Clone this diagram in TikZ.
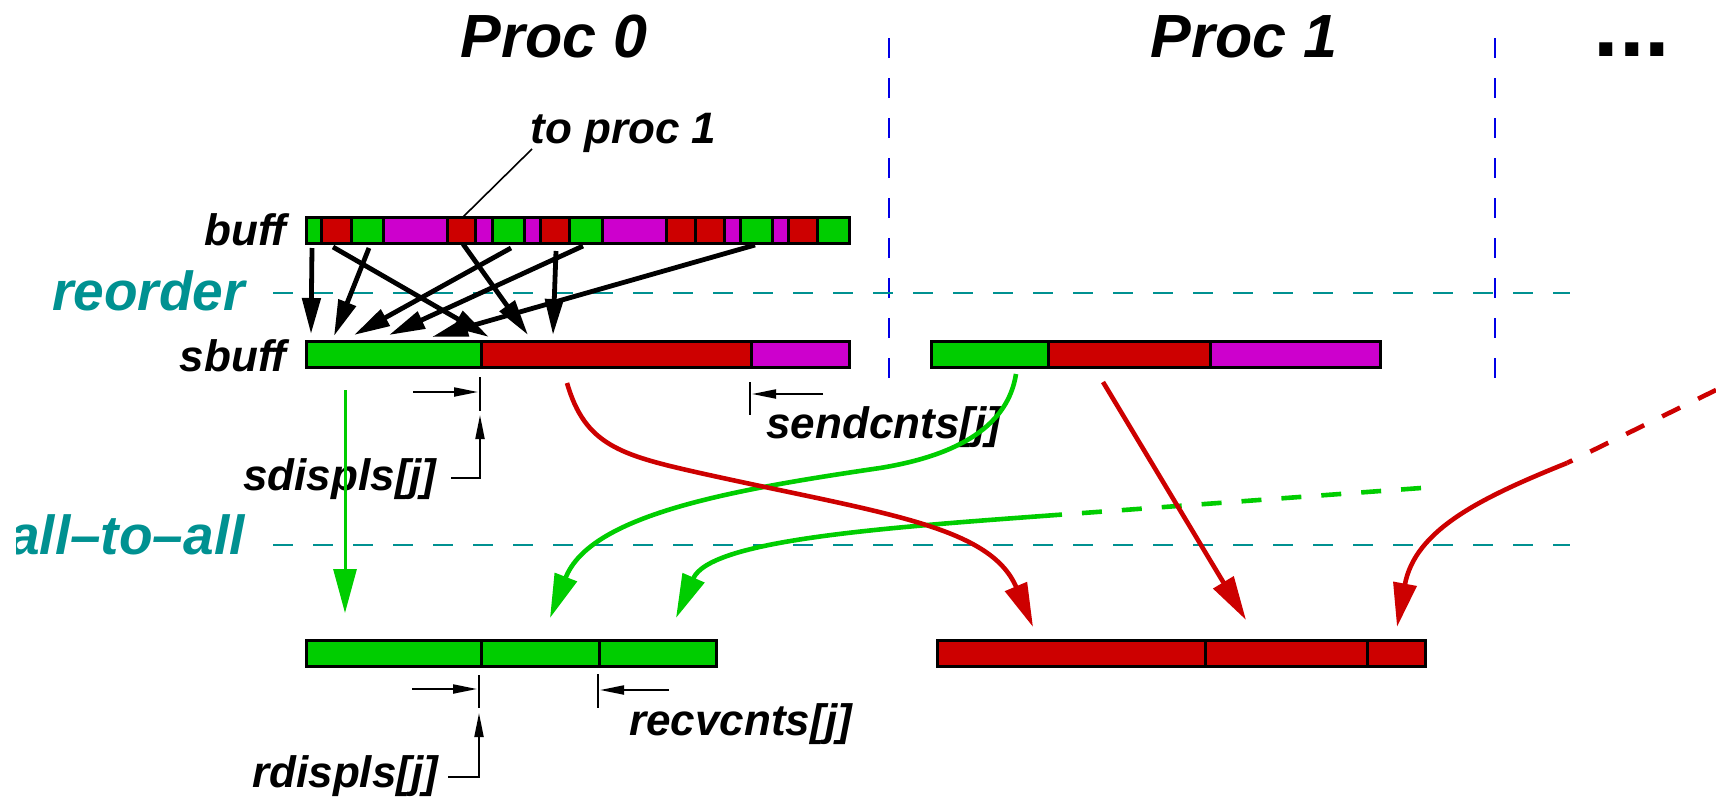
\documentclass[tikz,border=0pt]{standalone}
\usepackage{fontspec}
\setmainfont{Liberation Sans}
\usetikzlibrary{arrows.meta}
\definecolor{fgreen}{RGB}{0,205,0}
\definecolor{fred}{RGB}{205,0,0}
\definecolor{fmag}{RGB}{205,0,205}
\definecolor{fteal}{RGB}{0,145,145}
\definecolor{fblue}{RGB}{0,0,230}
\begin{document}
\begin{tikzpicture}[x=0.5pt, y=-0.5pt, every node/.style={inner sep=0pt},
  proc/.style={font=\fontsize{30.5}{32}\selectfont\bfseries\itshape, anchor=base},
  lbl/.style={font=\fontsize{22}{24}\selectfont\bfseries\itshape},
  phase/.style={font=\fontsize{27.5}{30}\selectfont\bfseries\itshape, text=fteal},
  seg/.style={draw=black, line width=1.5pt},
  sep/.style={fteal, line width=1.3pt, dash pattern=on 10pt off 10pt},
  pbound/.style={fblue, line width=1.3pt, dash pattern=on 10pt off 10pt},
  mv/.style={-{Triangle[length=18pt,width=9pt]}, line width=2.4pt},
  xfer/.style={-{Triangle[length=22pt,width=11.5pt]}, line width=2.3pt},
  ann/.style={-{Triangle[length=12pt,width=4.5pt]}, line width=1pt},
  tick/.style={line width=1pt}]
\useasboundingbox (0,0) rectangle (1716,798);
\node[proc] (proczero) at (554,57) {Proc 0};
\node[proc] (procone) at (1244,57) {Proc 1};
\node[font=\fontsize{46}{48}\selectfont\bfseries, anchor=base west, text height=7pt] (more) at (1593,56) {...};
\draw[pbound] (889,38) -- (889,378);
\draw[pbound] (1495,38) -- (1495,378);
\draw[sep] (273,293) -- (1570,293);
\draw[sep] (273,545) -- (1570,545);
\node[phase, anchor=base west] (reord) at (52,310) {reorder};
\begin{scope}
  \clip (16,480) rectangle (300,600);
  \node[phase, anchor=base east] (alltoall) at (245,554) {all–to–all};
\end{scope}
% buffers
\node[lbl, anchor=base east] (buffl) at (287,245) {buff};
\node[lbl, anchor=base east] (sbuffl) at (287,371) {sbuff};
\foreach \a/\b/\c in {306/321.5/fgreen, 321.5/351/fred, 351/383/fgreen, 383/447.5/fmag,
    447.5/475.5/fred, 475.5/492.8/fmag, 492.8/524.2/fgreen, 524.2/540.1/fmag,
    540.1/569.7/fred, 569.7/602/fgreen, 602/666.6/fmag, 666.6/695.3/fred,
    695.3/724/fred, 724/740.6/fmag, 740.6/772.1/fgreen, 772.1/788/fmag,
    788/817.2/fred, 817.2/849/fgreen}
  \draw[seg, fill=\c] (\a,217) rectangle (\b,243);
\foreach \a/\b/\c in {306/481.7/fgreen, 481.7/751/fred, 751/849/fmag,
    931/1048/fgreen, 1048/1210/fred, 1210/1380/fmag}
  \draw[seg, fill=\c] (\a,341.5) rectangle (\b,367);
\foreach \a/\b/\c in {306/481.5/fgreen, 481.5/599/fgreen, 599/716/fgreen,
    937/1205/fred, 1205/1367/fred, 1367/1425/fred}
  \draw[seg, fill=\c] (\a,640) rectangle (\b,666);
\node[lbl, anchor=base west] (toproc) at (530,143) {to proc 1};
\coordinate (tp0) at (532,149);
\coordinate (tp1) at (463,217);
\draw[line width=0.8pt] (tp0) -- (tp1);
% reorder moves
\foreach \n/\sx/\sy/\tx/\ty in {1/312/248/311/334, 2/333/247/489/337, 3/369/248/334/336,
    4/511/248/354/335, 5/463/244/528/335, 6/583/246/389/335, 7/556/251/553/335,
    8/755/245/432/337}{
  \coordinate (mvs\n) at (\sx,\sy);
  \coordinate (mvt\n) at (\tx,\ty);
  \draw[mv] (mvs\n) -- (mvt\n);
}
% displacements and counts
\node[lbl, anchor=base west] (sdisp) at (243,490) {sdispls[j]};
\node[lbl, anchor=base west] (sendc) at (766,438) {sendcnts[j]};
\node[lbl, anchor=base west] (rdisp) at (252,787) {rdispls[j]};
\node[lbl, anchor=base west] (recvc) at (629,735) {recvcnts[j]};
\draw[tick] (480,377) -- (480,411);
\draw[tick] (750,382) -- (750,415);
\draw[tick] (479,675) -- (479,708);
\draw[tick] (598,674) -- (598,708);
\coordinate (sd0) at (413,392); \coordinate (sd1) at (478,392);
\coordinate (sd2) at (451,478); \coordinate (sd3) at (480,415);
\coordinate (sc0) at (823,394); \coordinate (sc1) at (752,394);
\coordinate (rd0) at (412,689); \coordinate (rd1) at (477,689);
\coordinate (rd2) at (448,777); \coordinate (rd3) at (479,713);
\coordinate (rc0) at (669,690); \coordinate (rc1) at (600,690);
\draw[ann] (sd0) -- (sd1);
\draw[ann] (sd2) -| (sd3);
\draw[ann] (sc0) -- (sc1);
\draw[ann] (rd0) -- (rd1);
\draw[ann] (rd2) -| (rd3);
\draw[ann] (rc0) -- (rc1);
% all-to-all transfers
\coordinate (gv0) at (345,390); \coordinate (gv1) at (345,613);
\draw[xfer, fgreen, line width=1.5pt] (gv0) -- (gv1);
\coordinate (ga0) at (1016,374); \coordinate (ga1) at (880,468); \coordinate (ga2) at (550,618);
\draw[xfer, fgreen] (ga0) .. controls (1008,425) and (960,455) .. (ga1)
  .. controls (730,490) and (590,515) .. (ga2);
\coordinate (gb0) at (1421,488); \coordinate (gb1) at (1056,515); \coordinate (gb2) at (676,618);
\draw[fgreen, line width=2.3pt, dash pattern=on 10pt off 10pt] (gb0) -- (gb1);
\draw[xfer, fgreen] (gb1) .. controls (880,528) and (710,540) .. (gb2);
\coordinate (ra0) at (567,383); \coordinate (ra1) at (700,473); \coordinate (ra2) at (1033,627);
\draw[xfer, fred] (ra0) .. controls (585,445) and (620,455) .. (ra1)
  .. controls (880,513) and (990,525) .. (ra2);
\coordinate (rb0) at (1103,382); \coordinate (rb1) at (1246,620);
\draw[xfer, fred] (rb0) -- (rb1);
\coordinate (rx0) at (1716,390); \coordinate (rx1) at (1567,463); \coordinate (rx2) at (1397,627);
\draw[fred, line width=2.3pt, dash pattern=on 10pt off 10pt] (rx0) -- (rx1);
\draw[xfer, fred] (rx1) .. controls (1480,498) and (1415,530) .. (rx2);
\end{tikzpicture}
\end{document}
